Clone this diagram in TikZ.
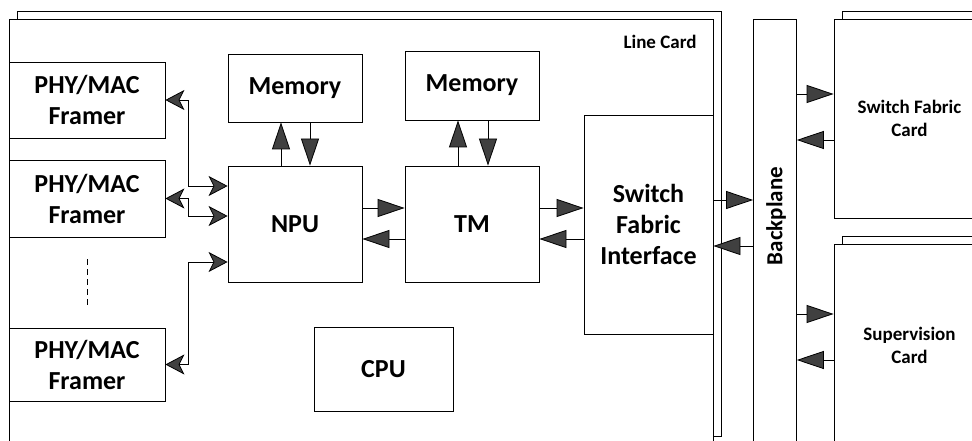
\documentclass[tikz,border=0pt]{standalone}
\usepackage{fontspec}
\setmainfont{Carlito}
\usetikzlibrary{arrows.meta}
\tikzset{
  blk/.style={draw=black, line width=0.8pt, fill=white, inner sep=0pt,
    align=center, font=\fontsize{26}{31}\selectfont\bfseries},
  cardbox/.style={draw=black, line width=0.8pt, fill=white, inner sep=0pt,
    align=center, font=\fontsize{19}{23}\selectfont\bfseries},
  edge/.style={draw=black, line width=0.8pt},
  bigtip/.tip={Triangle[length=27pt, width=18pt, fill=black!75]},
  smalltip/.tip={Stealth[length=19pt, width=20pt, inset=5pt, fill=black!75]},
  flow/.style={edge, -bigtip},
  link/.style={edge, smalltip-smalltip},
}
\begin{document}
\begin{tikzpicture}[x=1pt, y=-1pt]
\useasboundingbox (0,0) rectangle (972,441);
\clip (0,0) rectangle (972,441);

% stacked line cards
\draw[edge] (17,19) -- (17,11) -- (721,11) -- (721,436) -- (713,436);
\node[blk, minimum width=704pt, minimum height=440pt, anchor=north west] (lc) at (9,19) {};
\node[font=\fontsize{19}{23}\selectfont\bfseries] (lclabel) at (660,42) {Line Card};

% framers
\node[blk, minimum width=156pt, minimum height=76pt] (f1) at (87,100) {PHY/MAC\\Framer};
\node[blk, minimum width=156pt, minimum height=77pt] (f2) at (87,198.5) {PHY/MAC\\Framer};
\node[blk, minimum width=156pt, minimum height=73pt] (f3) at (87,364.5) {PHY/MAC\\Framer};
\draw[edge, dashed, dash pattern=on 6pt off 4pt] ([yshift=-22pt]f2.south) -- ([yshift=23pt]f3.north);

% processing blocks
\node[blk, minimum width=134pt, minimum height=68pt] (mem1) at (295,88) {Memory};
\node[blk, minimum width=134pt, minimum height=69pt] (mem2) at (472,85.5) {Memory};
\node[blk, minimum width=134pt, minimum height=116pt] (npu) at (295,224) {NPU};
\node[blk, minimum width=134pt, minimum height=116pt] (tm) at (472,224) {TM};
\node[blk, minimum width=129pt, minimum height=219pt] (sfi) at (648.5,224.5) {Switch\\Fabric\\Interface};
\node[blk, minimum width=139pt, minimum height=84pt] (cpu) at (383.5,369) {CPU};

% backplane
\node[draw=black, line width=0.8pt, fill=white, minimum width=43pt, minimum height=440pt, anchor=north west, inner sep=0pt] (bp) at (753,19) {};
\node[rotate=90, font=\fontsize{23}{27}\selectfont\bfseries] (bplabel) at (776,216) {Backplane};

% other cards
\draw[edge] (842,19) -- (842,11) -- (980,11);
\node[cardbox, minimum width=151pt, minimum height=199pt] (sfc) at (909.5,118.5) {Switch Fabric\\Card};
\draw[edge] (842,244) -- (842,236) -- (980,236);
\node[cardbox, minimum width=151pt, minimum height=202pt] (sup) at (909.5,345) {Supervision\\Card};

% memory interfaces
\draw[flow] ([xshift=-14pt]npu.north) -- ([xshift=-14pt]mem1.south);
\draw[flow] ([xshift=15pt]mem1.south) -- ([xshift=15pt]npu.north);
\draw[flow] ([xshift=-14pt]tm.north) -- ([xshift=-14pt]mem2.south);
\draw[flow] ([xshift=16pt]mem2.south) -- ([xshift=16pt]tm.north);

% datapath
\draw[flow] ([yshift=16pt]npu.east) -- ([yshift=16pt]tm.west);
\draw[flow] ([yshift=-15pt]tm.west) -- ([yshift=-15pt]npu.east);
\draw[flow] ([yshift=16pt]tm.east) -- ([yshift=16pt]tm.east -| sfi.west);
\draw[flow] ([yshift=-15pt]tm.east -| sfi.west) -- ([yshift=-15pt]tm.east);
\draw[flow] ([yshift=24.5pt]sfi.east) -- ([yshift=24.5pt]sfi.east -| bp.west);
\draw[flow] ([yshift=-21.5pt]sfi.east -| bp.west) -- ([yshift=-21.5pt]sfi.east);

% backplane to cards
\draw[flow] ([yshift=24.5pt]sfc.west -| bp.east) -- ([yshift=24.5pt]sfc.west);
\draw[flow] ([yshift=-21.5pt]sfc.west) -- ([yshift=-21.5pt]sfc.west -| bp.east);
\draw[flow] ([yshift=31pt]sup.west -| bp.east) -- ([yshift=31pt]sup.west);
\draw[flow] ([yshift=-15pt]sup.west) -- ([yshift=-15pt]sup.west -| bp.east);

% framer links
\draw[link] (f1.east) -- ++(23,0) |- ([yshift=38pt]npu.west);
\draw[link] (f2.east) -- ++(23,0) |- ([yshift=8pt]npu.west);
\draw[link] (f3.east) -- ++(23,0) |- ([yshift=-38pt]npu.west);
\end{tikzpicture}
\end{document}
